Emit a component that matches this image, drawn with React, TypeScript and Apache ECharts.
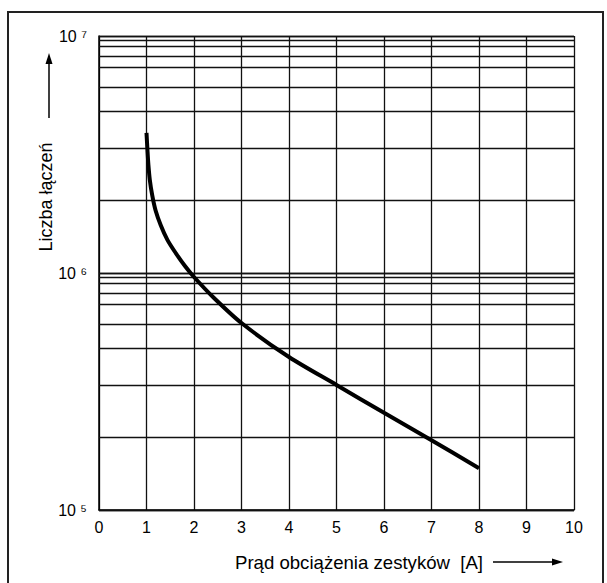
import React, { useEffect, useRef } from "react";
import * as echarts from "echarts";

// Current [A]
const currentA = [1.0, 1.02, 1.04, 1.07, 1.12, 1.19, 1.3, 1.44, 1.62, 1.81, 2.0, 2.4, 3.0, 4.0, 5.0, 6.0, 7.0, 8.0];
// Number of switching operations
const cycles = [3.9e6, 3.3e6, 2.86e6, 2.47e6, 2.13e6, 1.84e6, 1.59e6, 1.38e6, 1.21e6, 1.07e6, 9.62e5, 7.92e5, 6.15e5, 4.42e5, 3.37e5, 2.57e5, 1.97e5, 1.5e5];

// Horizontal grid lines (chart's own ruling)
const gridMultipliers = [9.6, 9.05, 8.25, 7.35, 6.1, 4.8, 3.35, 2.03];
const gridDecades = [1e5, 1e6];

// Y tick labels (10^5, 10^6, 10^7)
const yTicks = [1e5, 1e6, 1e7];
const superscripts: Record<number, string> = { 5: "\u2075", 6: "\u2076", 7: "\u2077" };

const xTitle = "Prąd obciążenia zestyków  [A]";
const yTitle = "Liczba łączeń";

const FONT = "Liberation Sans, Arial, Helvetica, sans-serif";

export default function App() {
  const ref = useRef<HTMLDivElement>(null);
  useEffect(() => {
    if (!ref.current) return;
    const chart = echarts.init(ref.current, undefined, { renderer: "svg" });
    const gridValues: number[] = [];
    gridDecades.forEach((d) => gridMultipliers.forEach((m) => gridValues.push(d * m)));
    const data = currentA.map((x, i) => [x, cycles[i]]);
    const tickLines = yTicks.map((v) => ({
      yAxis: v,
      label: {
        show: true,
        position: "start",
        distance: 12,
        formatter: `10 ${superscripts[Math.round(Math.log10(v))] || ""}`,
        fontSize: 16,
        fontFamily: FONT,
        color: "#000",
      },
    }));
    chart.setOption({
      animation: false,
      backgroundColor: "#fff",
      textStyle: { fontFamily: FONT },
      grid: { left: 99, right: 33, top: 36, bottom: 73, containLabel: false },
      xAxis: {
        type: "value",
        min: 0,
        max: 10,
        interval: 1,
        axisLine: { show: true, lineStyle: { color: "#000", width: 1.5 } },
        axisTick: { show: false },
        axisLabel: { color: "#000", fontSize: 16, margin: 9, fontFamily: FONT },
        splitLine: { show: true, lineStyle: { color: "#111", width: 1.3 } },
      },
      yAxis: {
        type: "log",
        logBase: 10,
        min: 1e5,
        max: 1e7,
        axisLine: { show: true, lineStyle: { color: "#000", width: 1.5 } },
        axisTick: { show: false },
        axisLabel: { show: false },
        splitLine: { show: true, lineStyle: { color: "#111", width: 1.3 } },
      },
      series: [
        {
          type: "line",
          data,
          smooth: 0.3,
          symbol: "none",
          lineStyle: { color: "#000", width: 4 },
          z: 5,
          markLine: {
            silent: true,
            symbol: "none",
            label: { show: false },
            lineStyle: { color: "#111", width: 1.3, type: "solid" },
            data: [...gridValues.map((v) => ({ yAxis: v })), ...tickLines],
            z: 1,
          },
        },
      ],
      graphic: [
        {
          type: "rect",
          shape: { x: 8, y: 12, width: 595, height: 600 },
          style: { fill: "none", stroke: "#222", lineWidth: 2 },
          silent: true,
        },
        {
          type: "text",
          x: 46,
          y: 197,
          rotation: Math.PI / 2,
          style: { text: yTitle, fontSize: 18, fontFamily: FONT, fill: "#000", align: "center", verticalAlign: "middle" },
        },
        {
          type: "line",
          shape: { x1: 49, y1: 118, x2: 49, y2: 62 },
          style: { stroke: "#000", lineWidth: 1.5 },
        },
        {
          type: "polygon",
          shape: { points: [[49, 53], [45.5, 64], [52.5, 64]] },
          style: { fill: "#000" },
        },
        {
          type: "text",
          x: 235,
          y: 562,
          style: { text: xTitle, fontSize: 18.6, fontFamily: FONT, fill: "#000", align: "left", verticalAlign: "middle" },
        },
        {
          type: "line",
          shape: { x1: 493, y1: 562, x2: 553, y2: 562 },
          style: { stroke: "#000", lineWidth: 1.5 },
        },
        {
          type: "polygon",
          shape: { points: [[563, 562], [552, 558.5], [552, 565.5]] },
          style: { fill: "#000" },
        },
      ],
    });
    return () => chart.dispose();
  }, []);
  return (
    <div
      ref={ref}
      style={{ position: "fixed", left: 0, top: 0, width: 607, height: 583, background: "#fff" }}
    />
  );
}
